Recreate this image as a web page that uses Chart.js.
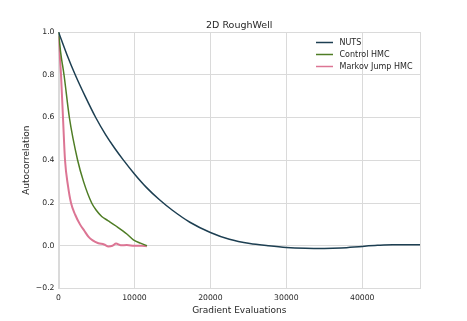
<!DOCTYPE html>
<html>
<head>
<meta charset="utf-8">
<script src="https://cdn.jsdelivr.net/npm/chart.js@4"></script>
<style>
  html, body { margin: 0; padding: 0; background: #fff; }
  canvas { display: block; }
</style>
</head>
<body>
<canvas id="chart" width="467" height="321"></canvas>
<script>
// Data
const nutsX = [0, 1100, 2200, 3500, 4900, 6200, 7400, 8500, 10000, 11600, 13300, 15000, 17300, 20000, 22500, 25200, 27600, 30000, 32500, 35000, 37200, 40000, 42000, 44000, 47600];
const nutsY = [1.0, 0.895, 0.8, 0.7, 0.6, 0.52, 0.456, 0.403, 0.336, 0.272, 0.215, 0.166, 0.11, 0.062, 0.03, 0.01, 0.0, -0.008, -0.012, -0.013, -0.011, -0.003, 0.002, 0.005, 0.005];

const controlX = [0, 300, 725, 1430, 2520, 3300, 4370, 5000, 5690, 6500, 7670, 9000, 9860, 10800, 11650];
const controlY = [1.0, 0.9, 0.8, 0.6, 0.4, 0.3, 0.2, 0.165, 0.137, 0.118, 0.09, 0.055, 0.028, 0.012, 0.0];

const jumpX = [0, 150, 330, 590, 860, 1250, 1650, 2200, 2830, 3400, 3930, 4500, 5250, 6000, 6570, 7100, 7580, 8200, 9000, 10000, 11000, 11620];
const jumpY = [0.98, 0.9, 0.8, 0.6, 0.4, 0.28, 0.2, 0.145, 0.1, 0.07, 0.043, 0.025, 0.012, 0.006, -0.003, 0.0, 0.01, 0.002, 0.003, 0.0, 0.0, -0.002];

const seriesNames = ['NUTS', 'Control HMC', 'Markov Jump HMC'];
const seriesColors = ['#1d3f52', '#4f7d25', '#dc7594'];
const yTicks = [-0.2, 0, 0.2, 0.4, 0.6, 0.8, 1.0];
const xTicks = [0, 10000, 20000, 30000, 40000];

function toPoints(xs, ys) {
    return xs.map((x, i) => ({ x: x, y: ys[i] }));
}

const textColor = '#262626';
const gridColor = '#dadada';
const fontFam = '"DejaVu Sans", sans-serif';

// frame, title + legend drawn inside the plot area, like matplotlib
const extras = {
    id: 'extras',
    beforeDatasetsDraw(chart) {
        const ctx = chart.ctx;
        const a = chart.chartArea;
        ctx.save();
        ctx.strokeStyle = gridColor;
        ctx.lineWidth = 1;
        ctx.strokeRect(Math.round(a.left) + 0.5, Math.round(a.top) + 0.5,
            Math.round(a.right - a.left) - 1, Math.round(a.bottom - a.top) - 1);
        ctx.restore();
    },
    afterDraw(chart) {
        const ctx = chart.ctx;
        const area = chart.chartArea;
        ctx.save();
        ctx.fillStyle = textColor;
        ctx.font = '9.5px ' + fontFam;
        ctx.textAlign = 'center';
        ctx.textBaseline = 'alphabetic';
        ctx.fillText('2D RoughWell', (area.left + area.right) / 2, area.top - 4);

        ctx.font = '8px ' + fontFam;
        ctx.textAlign = 'left';
        ctx.textBaseline = 'middle';
        chart.data.datasets.forEach((ds, i) => {
            const y = 42.5 + i * 12;
            ctx.strokeStyle = ds.borderColor;
            ctx.lineWidth = 1.5;
            ctx.beginPath();
            ctx.moveTo(316, y);
            ctx.lineTo(333, y);
            ctx.stroke();
            ctx.fillStyle = textColor;
            ctx.fillText(ds.label, 339.5, y);
        });
        ctx.restore();
    }
};

new Chart(document.getElementById('chart'), {
    type: 'line',
    data: {
        datasets: [
            { label: seriesNames[0], data: toPoints(nutsX, nutsY), borderColor: seriesColors[0], borderWidth: 1.5 },
            { label: seriesNames[1], data: toPoints(controlX, controlY), borderColor: seriesColors[1], borderWidth: 1.5 },
            { label: seriesNames[2], data: toPoints(jumpX, jumpY), borderColor: seriesColors[2], borderWidth: 2 }
        ]
    },
    options: {
        responsive: false,
        animation: false,
        elements: {
            point: { radius: 0 },
            line: { cubicInterpolationMode: 'monotone' }
        },
        layout: { padding: { top: 32, right: 47, left: 0, bottom: 0 } },
        plugins: {
            legend: { display: false },
            title: { display: false },
            tooltip: { enabled: false }
        },
        scales: {
            x: {
                type: 'linear',
                min: 0,
                max: 47600,
                afterFit(scale) { scale.height = 32.5; },
                afterBuildTicks(scale) { scale.ticks = xTicks.map(v => ({ value: v })); },
                grid: { color: gridColor, lineWidth: 1, drawTicks: false },
                border: { color: gridColor },
                ticks: {
                    padding: 5,
                    color: textColor,
                    font: { family: fontFam, size: 7.7 },
                    maxRotation: 0,
                    callback: v => String(v)
                },
                title: {
                    display: true,
                    text: 'Gradient Evaluations',
                    color: textColor,
                    font: { family: fontFam, size: 9 },
                    padding: { top: 0, bottom: 5 }
                }
            },
            y: {
                min: -0.2,
                max: 1.0,
                afterFit(scale) { scale.width = 58.5; },
                afterBuildTicks(scale) { scale.ticks = yTicks.map(v => ({ value: v })); },
                grid: { color: gridColor, lineWidth: 1, drawTicks: false },
                border: { color: gridColor },
                ticks: {
                    padding: 4,
                    color: textColor,
                    font: { family: fontFam, size: 7.7 },
                    callback: v => v.toFixed(1).replace('-', '\u2212')
                },
                title: {
                    display: true,
                    text: 'Autocorrelation',
                    color: textColor,
                    font: { family: fontFam, size: 9 },
                    padding: { top: 21, bottom: 0 }
                }
            }
        }
    },
    plugins: [extras]
});
</script>
</body>
</html>
